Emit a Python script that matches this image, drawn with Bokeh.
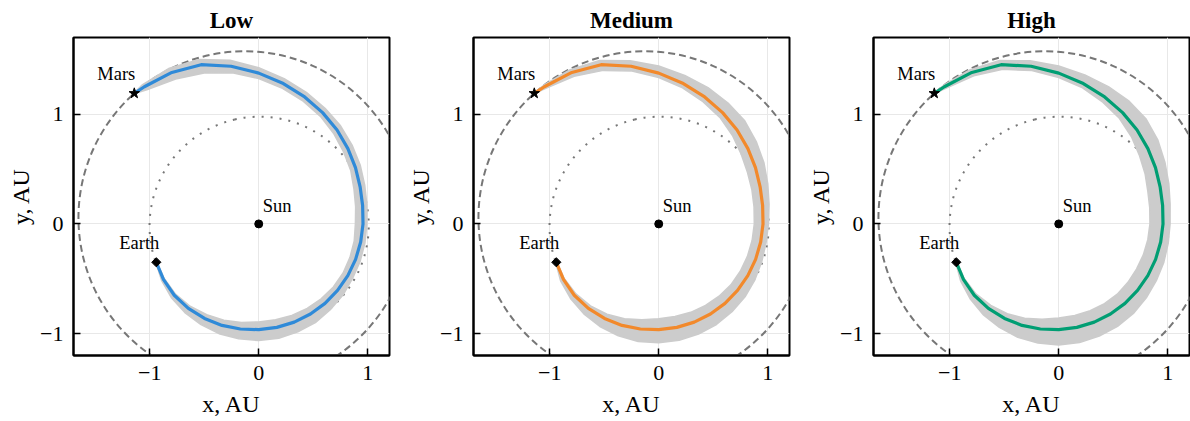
import numpy as np
from bokeh.plotting import figure
from bokeh.layouts import row
from bokeh.models import Range1d, FixedTicker, Label
from bokeh.embed import file_html
from bokeh.resources import INLINE

# ---------------- data ----------------
titles = ["Low", "Medium", "High"]
line_colors = ["#2f8ad8", "#f2892b", "#009e73"]
band_color = "#cccccc"

# nominal transfer trajectory, read in polar form around the Sun
# (heliocentric angle in degrees, distance in AU), Earth -> Mars
traj_theta = [-159.6, -150, -140, -130, -120, -110, -100, -90, -80, -70,
              -60, -50, -40, -30, -20, -10, 0, 10, 20, 30,
              40, 50, 60, 70, 80, 90, 100, 110, 120, 130, 133.8]
traj_r = [1.003, 1.010, 1.012, 1.005, 0.995, 0.985, 0.973, 0.964, 0.958, 0.953,
          0.949, 0.946, 0.944, 0.944, 0.946, 0.950, 0.957, 0.968, 0.990, 1.025,
          1.068, 1.118, 1.172, 1.232, 1.300, 1.375, 1.460, 1.545, 1.595, 1.633, 1.650]

# spread of the trajectory ensemble around the nominal path (AU, outward / inward)
band_out = {
    "Low":    [0.005, 0.02, 0.035, 0.05, 0.065, 0.08, 0.09, 0.10, 0.10, 0.095,
               0.09, 0.075, 0.065, 0.05, 0.045, 0.04, 0.035, 0.04, 0.045, 0.05,
               0.05, 0.05, 0.045, 0.045, 0.045, 0.05, 0.055, 0.05, 0.045, 0.025, 0.003],
    "Medium": [0.005, 0.03, 0.045, 0.065, 0.085, 0.10, 0.115, 0.12, 0.12, 0.115,
               0.11, 0.10, 0.09, 0.075, 0.06, 0.05, 0.05, 0.06, 0.075, 0.09,
               0.10, 0.11, 0.10, 0.09, 0.075, 0.065, 0.05, 0.04, 0.03, 0.015, 0.003],
    "High":   [0.005, 0.03, 0.05, 0.075, 0.095, 0.115, 0.13, 0.14, 0.14, 0.135,
               0.13, 0.12, 0.105, 0.09, 0.08, 0.07, 0.065, 0.07, 0.085, 0.10,
               0.12, 0.13, 0.12, 0.10, 0.08, 0.065, 0.05, 0.04, 0.03, 0.015, 0.003],
}
band_in = {
    "Low":    [0.005, 0.01, 0.015, 0.025, 0.04, 0.05, 0.06, 0.07, 0.07, 0.065,
               0.06, 0.055, 0.05, 0.05, 0.055, 0.06, 0.07, 0.065, 0.06, 0.05,
               0.05, 0.045, 0.04, 0.04, 0.045, 0.05, 0.06, 0.08, 0.07, 0.035, 0.003],
    "Medium": [0.005, 0.01, 0.02, 0.03, 0.045, 0.065, 0.085, 0.10, 0.10, 0.095,
               0.09, 0.085, 0.08, 0.08, 0.08, 0.08, 0.08, 0.08, 0.08, 0.085,
               0.08, 0.065, 0.05, 0.045, 0.04, 0.04, 0.045, 0.055, 0.04, 0.02, 0.003],
    "High":   [0.005, 0.01, 0.02, 0.035, 0.05, 0.07, 0.09, 0.105, 0.11, 0.11,
               0.11, 0.11, 0.115, 0.12, 0.12, 0.12, 0.12, 0.12, 0.12, 0.11,
               0.10, 0.08, 0.06, 0.05, 0.04, 0.04, 0.04, 0.045, 0.035, 0.02, 0.003],
}

sun_xy = (0.0, 0.0)

# planetary orbits: semi-major axis (AU), eccentricity, longitude of perihelion (deg)
orbit_names = ["Earth", "Mars"]
orbit_a = [1.000, 1.524]
orbit_e = [0.0167, 0.0934]
orbit_varpi = [102.9, 336.0]

ticks = [-1, 0, 1]
tick_labels = ["\u22121", "0", "1"]

# ---------------- style ----------------
FONT = "Liberation Serif"
X0, X1, Y0, Y1 = -1.7, 1.2, -1.2, 1.7
FW, FH = 316, 318
PPX = FW / (X1 - X0)
PPY = FH / (Y1 - Y0)

th = np.deg2rad(np.array(traj_theta))
rr = np.array(traj_r)
tx = rr * np.cos(th)
ty = rr * np.sin(th)
earth_xy = (tx[0], ty[0])
mars_xy = (tx[-1], ty[-1])


def make_fig(i, right_border):
    name = titles[i]
    p = figure(frame_width=FW, frame_height=FH,
               x_range=Range1d(X0, X1), y_range=Range1d(Y0, Y1),
               output_backend="svg", toolbar_location=None,
               min_border_left=73, min_border_right=right_border,
               min_border_top=33, min_border_bottom=70,
               title=name, background_fill_color="white",
               border_fill_color="white")
    p.title.align = "center"
    p.title.text_font = FONT
    p.title.text_font_size = "23px"
    p.title.text_font_style = "bold"
    p.title.text_color = "black"

    p.outline_line_color = "black"
    p.outline_line_width = 2
    p.outline_line_alpha = 1.0

    for ax in (p.xaxis, p.yaxis):
        ax.ticker = FixedTicker(ticks=ticks, minor_ticks=[])
        ax.major_label_overrides = dict(zip(ticks, tick_labels))
        ax.major_tick_in = 7
        ax.major_tick_out = 0
        ax.minor_tick_in = 0
        ax.minor_tick_out = 0
        ax.major_tick_line_width = 1.5
        ax.major_tick_line_color = "black"
        ax.axis_line_width = 2
        ax.axis_line_color = "black"
        ax.major_label_text_font = FONT
        ax.major_label_text_font_size = "22px"
        ax.major_label_text_color = "black"
        ax.major_label_standoff = 10
        ax.axis_label_text_font = FONT
        ax.axis_label_text_font_size = "24px"
        ax.axis_label_text_font_style = "normal"
        ax.axis_label_text_color = "black"
    p.xaxis.axis_label = "x, AU"
    p.yaxis.axis_label = "y, AU"
    p.xaxis.axis_label_standoff = 8
    p.yaxis.axis_label_standoff = 3
    p.grid.grid_line_color = "#e8e8e8"
    p.grid.grid_line_width = 1

    # planetary orbits
    styles = {"Earth": dict(line_dash="2 7", line_width=2.0),
              "Mars": dict(line_dash="7 4", line_width=2.0)}
    for nm, a, e, w in zip(orbit_names, orbit_a, orbit_e, orbit_varpi):
        wr = np.deg2rad(w)
        cx = -a * e * np.cos(wr)
        cy = -a * e * np.sin(wr)
        p.ellipse(x=[cx], y=[cy], width=[2 * a], height=[2 * a * np.sqrt(1 - e * e)],
                  angle=[wr], fill_color=None, line_color="#777777", **styles[nm])

    # ensemble band
    ux, uy = np.cos(th), np.sin(th)
    do = np.array(band_out[name])
    di = np.array(band_in[name])
    bx = np.concatenate([tx + do * ux, (tx - di * ux)[::-1]])
    by = np.concatenate([ty + do * uy, (ty - di * uy)[::-1]])
    p.patch(bx, by, fill_color=band_color, line_color=band_color, line_width=1.5)

    # nominal trajectory
    p.line(tx, ty, line_color=line_colors[i], line_width=3.2,
           line_join="round", line_cap="round")

    # bodies
    p.scatter([sun_xy[0]], [sun_xy[1]], marker="circle", size=8, color="black")
    p.scatter([earth_xy[0]], [earth_xy[1]], marker="square", size=6.5,
              angle=np.pi / 4, color="black")
    p.scatter([mars_xy[0]], [mars_xy[1]], marker="star", size=11, color="black")

    lab = dict(text_font=FONT, text_font_size="18.5px", text_color="black",
               text_baseline="alphabetic")
    p.add_layout(Label(x=sun_xy[0] + 4 / PPX, y=sun_xy[1] + 18 / PPY, text="Sun",
                       text_align="left", **lab))
    p.add_layout(Label(x=earth_xy[0] + 3 / PPX, y=earth_xy[1] + 19 / PPY, text="Earth",
                       text_align="right", **lab))
    p.add_layout(Label(x=mars_xy[0] + 1 / PPX, y=mars_xy[1] + 19 / PPY, text="Mars",
                       text_align="right", **lab))
    return p


figs = [make_fig(0, 11), make_fig(1, 11), make_fig(2, 1)]
layout = row(*figs, spacing=0)
open("out.html", "w").write(file_html(layout, INLINE))
